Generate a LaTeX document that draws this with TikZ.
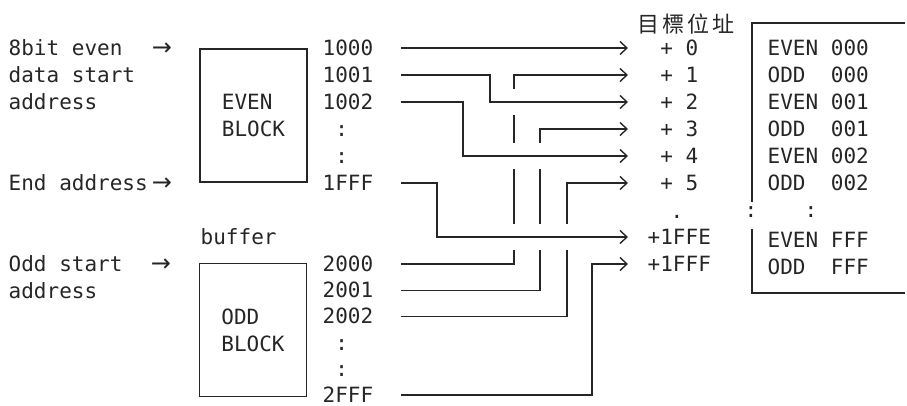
\documentclass[tikz,border=0pt]{standalone}
\usepackage{fontspec}
\newfontfamily\prtfont{DejaVu Sans Mono}
\newfontfamily\symfont{DejaVu Sans}
\newfontfamily\cjkfont{Noto Sans CJK TC}
\usetikzlibrary{arrows.meta}

\begin{document}
\begin{tikzpicture}[
  x=1pt, y=-1pt,
  line width=1.4pt,
  color=black!85,
  every node/.style={font=\prtfont\fontsize{21pt}{27pt}\selectfont, inner sep=0pt},
  txt/.style={anchor=west, text height=15pt, text depth=0pt},
  arw/.style={txt, anchor=center, font=\symfont\fontsize{24pt}{27pt}\selectfont},
  blk/.style={draw, line width=1.6pt, minimum width=107pt, minimum height=133pt, align=left},
  conn/.style={-{Straight Barb[length=7pt,width=13pt]}},
  hop/.style={preaction={draw=white, line width=26pt, arrows=-}}
]
\useasboundingbox (0,0) rectangle (907,406);
% left side labels
\node[txt] (srcA) at (8,48) {8bit even};
\node[txt] (srcB) at (8,75) {data start};
\node[txt] (srcC) at (8,102) {address};
\node[arw] (arA) at (162,48) {→};
\node[txt] (endA) at (8,183) {End address};
\node[arw] (arB) at (162,183) {→};
\node[txt] (oddA) at (8,264) {Odd start};
\node[txt] (oddB) at (8,291) {address};
\node[arw] (arC) at (161,264) {→};
\node[txt] (buf) at (200,237) {buffer};
% the two blocks
\node[blk] (evblk) at (253.5,115.5) {EVEN\\BLOCK};
\node[blk] (odblk) at (253,330) {ODD\\BLOCK};
% addresses
\foreach \lab [count=\i from 0] in {1000,1001,1002,~:,~:,1FFF}
  \node[txt] (ev\i) at (322,{48+27*\i}) {\lab};
\foreach \lab [count=\i from 0] in {2000,2001,2002,~:,~:,2FFF}
  \node[txt] (od\i) at (322,{264+26.2*\i}) {\lab};
% target addresses
\node[font=\cjkfont\fontsize{22pt}{27pt}\selectfont] (hdr) at (686,24)
  {目\hspace{3pt}標\hspace{3pt}位\hspace{3pt}址};
\foreach \i in {0,...,5}
  \node[txt] (tg\i) at (647,{48+27*\i}) {~+ \i};
\node (tgdot) at (677,217) {.};
\node[txt] (tgFFE) at (647,237) {+1FFE};
\node[txt] (tgFFF) at (647,264) {+1FFF};
% memory contents
\foreach \lab [count=\i from 0] in
  {EVEN 000,ODD~~000,EVEN 001,ODD~~001,EVEN 002,ODD~~002}
  \node[txt] (mem\i) at (767,{48+27*\i}) {\lab};
\node (memdA) at (751,212) {:};
\node (memdB) at (811,212) {:};
\node[txt] (mem7) at (767,240) {EVEN FFF};
\node[txt] (mem8) at (767,267) {ODD~~FFF};
\draw (905,23) -- (752,23) -- (752,202);
\draw (752,229) -- (752,293) -- (905,293);
% odd lines first, the even ones hop over them
\draw[conn] ([xshift=27pt]od0.east) -- ++(113,0) |- ([xshift=-19pt]tg1.west);
\draw[conn] ([xshift=27pt]od1.east) -- ++(139,0) |- ([xshift=-19pt]tg3.west);
\draw[conn] ([xshift=27pt]od2.east) -- ++(166,0) |- ([xshift=-19pt]tg5.west);
\draw[conn] ([xshift=27pt]od5.east) -- ++(191,0) |- ([xshift=-19pt]tgFFF.west);
\draw[conn,hop] ([xshift=27pt]ev0.east) -- ([xshift=-19pt]tg0.west);
\draw[conn,hop] ([xshift=27pt]ev1.east) -- ++(89,0) |- ([xshift=-19pt]tg2.west);
\draw[conn,hop] ([xshift=27pt]ev2.east) -- ++(62,0) |- ([xshift=-19pt]tg4.west);
\draw[conn,hop] ([xshift=27pt]ev5.east) -- ++(36,0) |- ([xshift=-19pt]tgFFE.west);
\end{tikzpicture}
\end{document}
